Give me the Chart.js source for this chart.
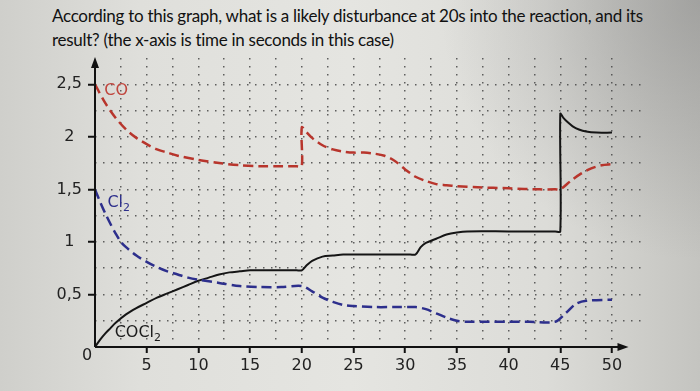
<!DOCTYPE html>
<html>
<head>
<meta charset="utf-8">
<script src="https://cdn.jsdelivr.net/npm/chart.js@4"></script>
<style>
  html, body { margin: 0; padding: 0; }
  body {
    width: 700px; height: 391px; overflow: hidden; position: relative;
    background:
      radial-gradient(ellipse 260px 260px at 700px 0px, rgba(120,120,120,0.45), rgba(120,120,120,0) 100%),
      linear-gradient(to right, #cfcfcb 0%, #dfdfdb 20%, #e5e5e1 50%, #dcdcd8 78%, #c4c4c0 100%);
  }
  #title {
    position: absolute; left: 52px; top: 4px; width: 645px;
    font-family: Lato, sans-serif; font-size: 17px; line-height: 24px; letter-spacing: -0.28px; color: #111;
  }
  #chartCanvas { position: absolute; left: 0; top: 0; }
</style>
</head>
<body>
<div id="title">According to this graph, what is a likely disturbance at 20s into the reaction, and its<br>result? (the x-axis is time in seconds in this case)</div>
<canvas id="chartCanvas" width="700" height="391"></canvas>
<script>
// tijd (s) en concentraties
const coTijd = [0, 1, 2, 3, 4, 5, 6, 7, 8, 10, 12, 14, 16, 18, 19.5, 20, 20, 20.5, 21, 22, 23, 24, 25, 26, 27, 28, 29, 30, 31, 32, 33, 34, 35, 37, 40, 43, 44.5, 45, 46, 47, 48, 49, 50];
const coConc = [2.5, 2.32, 2.18, 2.07, 1.99, 1.93, 1.88, 1.85, 1.82, 1.78, 1.75, 1.73, 1.72, 1.72, 1.72, 1.72, 2.09, 2.04, 1.99, 1.92, 1.88, 1.86, 1.85, 1.85, 1.84, 1.82, 1.77, 1.69, 1.62, 1.58, 1.55, 1.54, 1.53, 1.52, 1.51, 1.5, 1.5, 1.5, 1.58, 1.65, 1.7, 1.73, 1.74];

const cl2Tijd = [0, 0.5, 1, 1.5, 2, 2.5, 3, 4, 5, 6, 7, 8, 9, 10, 12, 14, 16, 18, 20, 21, 22, 23, 24, 25, 27, 29, 31, 32, 33, 34, 35, 36, 38, 40, 42, 44.5, 45.5, 46.5, 47.5, 50];
const cl2Conc = [1.5, 1.38, 1.27, 1.17, 1.08, 1.0, 0.95, 0.87, 0.81, 0.76, 0.72, 0.69, 0.66, 0.64, 0.61, 0.58, 0.57, 0.57, 0.58, 0.53, 0.47, 0.43, 0.4, 0.39, 0.38, 0.38, 0.38, 0.36, 0.32, 0.28, 0.25, 0.24, 0.24, 0.24, 0.24, 0.24, 0.32, 0.41, 0.44, 0.45];

const cocl2Tijd = [0, 0.5, 1, 1.5, 2, 3, 4, 5, 6, 7, 8, 9, 10, 11, 12, 13, 14, 15, 17, 19.5, 20, 20.5, 21, 22, 23, 24, 27, 30.5, 31, 31.5, 32, 33, 34, 35, 36, 40, 44.5, 45, 45, 45.3, 45.7, 46.2, 46.8, 47.5, 48.5, 50];
const cocl2Conc = [0, 0.07, 0.13, 0.18, 0.23, 0.31, 0.37, 0.42, 0.47, 0.51, 0.55, 0.59, 0.63, 0.66, 0.69, 0.71, 0.72, 0.73, 0.73, 0.73, 0.73, 0.78, 0.82, 0.86, 0.87, 0.88, 0.88, 0.88, 0.88, 0.95, 0.99, 1.03, 1.07, 1.09, 1.1, 1.1, 1.1, 1.1, 2.22, 2.18, 2.14, 2.1, 2.07, 2.05, 2.04, 2.04];

// labels bij de lijnen
const lijnLabels = [
  { tekst: 'CO', sub: '', x: 0.9, y: 2.44, kleur: '#c0453d' },
  { tekst: 'Cl', sub: '2', x: 1.2, y: 1.37, kleur: '#2d2f8c' },
  { tekst: 'COCl', sub: '2', x: 1.9, y: 0.13, kleur: '#1a1a1a' }
];

function punten(tijd, conc) {
  return tijd.map((t, i) => ({ x: t, y: conc[i] }));
}

function isVeelvoud(v, stap) {
  return Math.abs(v / stap - Math.round(v / stap)) < 1e-6;
}

const gridKleur = 'rgba(70,70,70,0.85)';

// assen met pijlen, de losse "0" en de labels
const assenPlugin = {
  id: 'assen',
  afterDraw(chart) {
    const ctx = chart.ctx;
    const xs = chart.scales.x;
    const ys = chart.scales.y;
    const x0 = xs.getPixelForValue(0);
    const y0 = ys.getPixelForValue(0);
    const yTop = ys.getPixelForValue(2.76);
    const xEind = xs.getPixelForValue(51.6);
    ctx.save();
    ctx.strokeStyle = '#111';
    ctx.fillStyle = '#111';
    ctx.lineWidth = 2;
    ctx.beginPath();
    ctx.moveTo(x0, y0);
    ctx.lineTo(x0, yTop + 6);
    ctx.moveTo(x0, y0);
    ctx.lineTo(xEind - 8, y0);
    ctx.stroke();
    // pijlpunten
    ctx.beginPath();
    ctx.moveTo(x0, yTop);
    ctx.lineTo(x0 - 4, yTop + 11);
    ctx.lineTo(x0 + 4, yTop + 11);
    ctx.closePath();
    ctx.fill();
    ctx.beginPath();
    ctx.moveTo(xEind, y0);
    ctx.lineTo(xEind - 11, y0 - 4);
    ctx.lineTo(xEind - 11, y0 + 4);
    ctx.closePath();
    ctx.fill();

    ctx.font = '16px "DejaVu Sans"';
    ctx.textAlign = 'center';
    ctx.textBaseline = 'middle';
    ctx.fillStyle = '#222';
    ctx.fillText('0', x0 - 8, y0 + 9);

    lijnLabels.forEach(l => {
      const px = xs.getPixelForValue(l.x);
      const py = ys.getPixelForValue(l.y);
      ctx.fillStyle = l.kleur;
      ctx.textAlign = 'left';
      ctx.font = '16px "DejaVu Sans"';
      ctx.fillText(l.tekst, px, py);
      if (l.sub) {
        const w = ctx.measureText(l.tekst).width;
        ctx.font = '11px "DejaVu Sans"';
        ctx.fillText(l.sub, px + w, py + 5);
      }
    });
    ctx.restore();
  }
};

function maakGrafiek() {
  const ctx = document.getElementById('chartCanvas').getContext('2d');
  new Chart(ctx, {
    type: 'line',
    data: {
      datasets: [
        {
          label: 'CO',
          data: punten(coTijd, coConc),
          borderColor: '#b8352c',
          borderWidth: 2.5,
          borderDash: [10, 5],
          pointRadius: 0,
          tension: 0.3,
          fill: false
        },
        {
          label: 'Cl2',
          data: punten(cl2Tijd, cl2Conc),
          borderColor: '#2d2f8c',
          borderWidth: 2.5,
          borderDash: [10, 5],
          pointRadius: 0,
          tension: 0.3,
          fill: false
        },
        {
          label: 'COCl2',
          data: punten(cocl2Tijd, cocl2Conc),
          borderColor: '#151515',
          borderWidth: 2,
          pointRadius: 0,
          tension: 0.3,
          fill: false
        }
      ]
    },
    options: {
      responsive: false,
      devicePixelRatio: 1,
      animation: false,
      layout: { padding: { left: 0, top: 58, right: 57, bottom: 0 } },
      plugins: {
        legend: { display: false },
        tooltip: { enabled: false }
      },
      scales: {
        x: {
          type: 'linear',
          min: 0,
          max: 53,
          afterFit: (s) => { s.height = 44; },
          afterBuildTicks: (s) => {
            s.ticks = s.ticks.filter(t => t.value <= 50 && isVeelvoud(t.value, 2.5));
          },
          ticks: {
            stepSize: 2.5,
            autoSkip: false,
            maxRotation: 0,
            padding: 3,
            color: '#222',
            font: { family: 'DejaVu Sans', size: 16 },
            callback: (v) => (v > 0 && isVeelvoud(v, 5)) ? String(v) : ''
          },
          grid: {
            color: (c) => (c.tick && c.tick.value > 0) ? gridKleur : 'transparent',
            lineWidth: 1.5,
            tickLength: 6,
            tickWidth: 2,
            tickBorderDash: [],
            tickColor: (c) => (c.tick && c.tick.value > 0 && isVeelvoud(c.tick.value, 5)) ? '#111' : 'transparent'
          },
          border: { display: false, dash: [1.5, 6.5] }
        },
        y: {
          type: 'linear',
          min: 0,
          max: 2.75,
          afterFit: (s) => { s.width = 95; },
          afterBuildTicks: (s) => {
            s.ticks = s.ticks.filter(t => t.value <= 2.5 + 1e-6);
          },
          ticks: {
            stepSize: 0.25,
            autoSkip: false,
            padding: 6,
            crossAlign: 'center',
            color: '#222',
            font: { family: 'DejaVu Sans', size: 16 },
            callback: (v) => (v > 0 && isVeelvoud(v, 0.5)) ? String(v).replace('.', ',') : ''
          },
          grid: {
            color: (c) => (c.tick && c.tick.value > 0) ? gridKleur : 'transparent',
            lineWidth: 1.5,
            tickLength: 7,
            tickWidth: 2,
            tickBorderDash: [],
            tickColor: (c) => (c.tick && c.tick.value > 0 && isVeelvoud(c.tick.value, 0.5)) ? '#111' : 'transparent'
          },
          border: { display: false, dash: [1.5, 6.5] }
        }
      }
    },
    plugins: [assenPlugin]
  });
}

document.addEventListener('DOMContentLoaded', maakGrafiek);
</script>
</body>
</html>
